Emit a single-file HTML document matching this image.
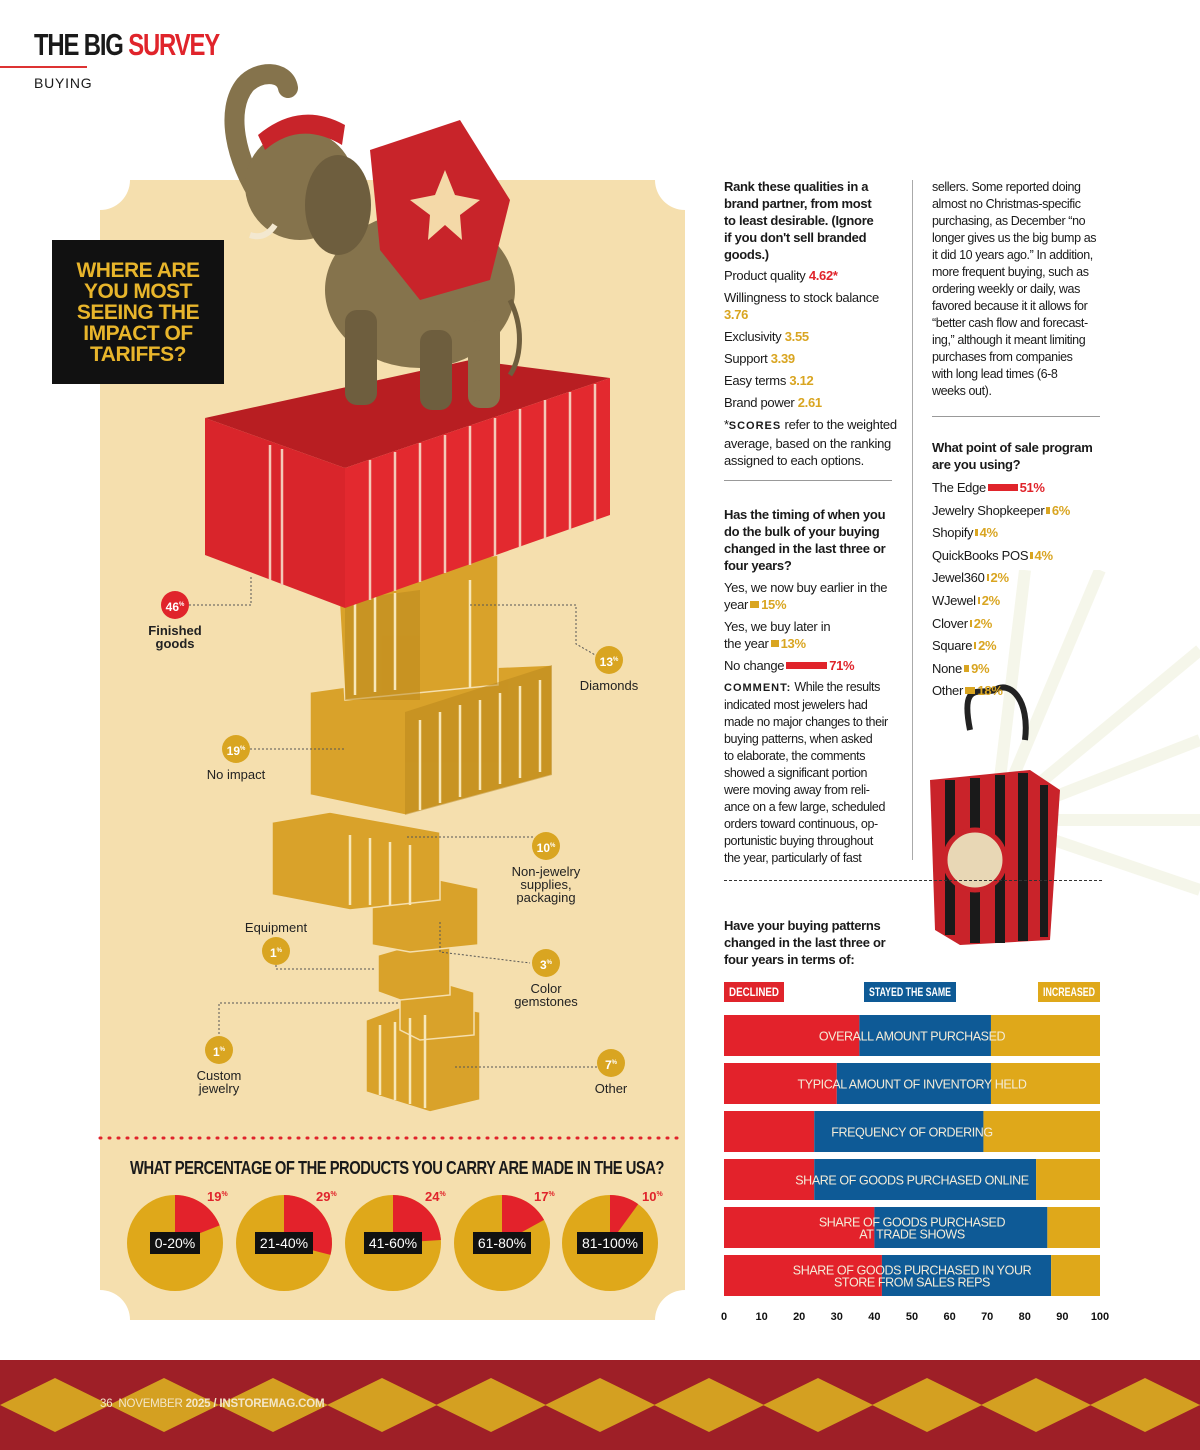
<!DOCTYPE html>
<html><head><meta charset="utf-8">
<style>
*{margin:0;padding:0;box-sizing:border-box}
body{width:1200px;height:1450px;position:relative;background:#fff;font-family:"Liberation Sans Narrow","Liberation Sans",sans-serif;color:#1a1a1a;overflow:hidden}
.t{position:absolute;white-space:nowrap;font-size:13px;line-height:17px;letter-spacing:-0.3px}
.b{font-weight:bold}
.g{color:#d9a521;font-weight:bold}
.r{color:#e0242b;font-weight:bold}
.ib{display:inline-block;height:7px;vertical-align:middle;margin:0 2px 2px 2px}
.lab{position:absolute;font-size:13px;line-height:13px;text-align:center;white-space:nowrap;font-weight:bold;color:#222}
.circ{position:absolute;width:28px;height:28px;border-radius:50%;color:#fff;font-weight:bold;font-size:12px;line-height:28px;text-align:center}
</style></head><body>
<div style="position:absolute;left:34px;top:28px;font-size:31px;font-weight:bold;letter-spacing:-1.5px;line-height:34px;transform:scaleX(0.77);transform-origin:0 0;white-space:nowrap">THE BIG <span style="color:#e0242b">SURVEY</span></div>
<div style="position:absolute;left:0;top:66px;width:87px;height:2px;background:#d33"></div>
<div style="position:absolute;left:34px;top:75px;font-size:14px;letter-spacing:0.8px;font-family:'Liberation Sans',sans-serif">BUYING</div>

<svg style="position:absolute;left:0;top:0" width="700" height="1340">
<path d="M130,180 H655 A30,30 0 0 0 685,210 V1290 A30,30 0 0 0 655,1320 H130 A30,30 0 0 0 100,1290 V210 A30,30 0 0 0 130,180 Z" fill="#f5dfae"/>
<line x1="100" y1="1138" x2="685" y2="1138" stroke="#e0242b" stroke-width="3" stroke-dasharray="1,8" stroke-linecap="round"/>
<g fill="#d9a22a" stroke="#f5dfae" stroke-width="1.5">
<polygon points="366,1020 420,1000 480,1012 480,1100 430,1112 366,1092"/>
<polygon points="400,995 450,985 474,992 474,1035 420,1040 400,1030"/>
<polygon points="378,955 430,940 450,948 450,995 400,1000 378,992"/>
<polygon points="372,895 440,880 478,888 478,945 410,952 372,945"/>
<polygon points="272,822 330,812 440,832 440,900 350,910 272,895"/>
<polygon points="310,692 480,668 552,665 552,775 405,815 310,795"/>
<polygon points="338,580 498,555 498,685 345,700"/>
</g>
<g fill="#b8861c" opacity="0.5">
<polygon points="405,712 552,665 552,775 405,815"/>
<polygon points="345,600 420,590 420,700 345,700"/>
</g>
<g stroke="#f8e7b8" stroke-width="2.5">
<line x1="420" y1="720" x2="420" y2="810"/><line x1="440" y1="712" x2="440" y2="803"/><line x1="460" y1="705" x2="460" y2="797"/><line x1="480" y1="700" x2="480" y2="790"/><line x1="500" y1="693" x2="500" y2="784"/><line x1="520" y1="686" x2="520" y2="778"/><line x1="540" y1="680" x2="540" y2="772"/>
<line x1="355" y1="600" x2="355" y2="695"/><line x1="375" y1="596" x2="375" y2="692"/><line x1="395" y1="593" x2="395" y2="690"/><line x1="470" y1="580" x2="470" y2="688"/>
<line x1="350" y1="835" x2="350" y2="905"/><line x1="370" y1="838" x2="370" y2="905"/><line x1="390" y1="842" x2="390" y2="905"/><line x1="410" y1="845" x2="410" y2="905"/>
<line x1="380" y1="1025" x2="380" y2="1095"/><line x1="395" y1="1022" x2="395" y2="1100"/><line x1="410" y1="1018" x2="410" y2="1104"/><line x1="425" y1="1015" x2="425" y2="1108"/>
</g>
<polygon points="205,418 470,360 610,378 345,468" fill="#b81e22"/>
<polygon points="205,418 345,468 345,608 205,555" fill="#d9252b"/>
<polygon points="345,468 610,378 610,515 345,608" fill="#e3292f"/>
<g stroke="#f4c9b8" stroke-width="2.5">
<line x1="270" y1="445" x2="270" y2="580"/><line x1="282" y1="449" x2="282" y2="585"/>
<line x1="370" y1="460" x2="370" y2="600"/><line x1="395" y1="452" x2="395" y2="591"/><line x1="420" y1="443" x2="420" y2="582"/><line x1="445" y1="435" x2="445" y2="573"/><line x1="470" y1="426" x2="470" y2="565"/><line x1="495" y1="418" x2="495" y2="556"/><line x1="520" y1="409" x2="520" y2="547"/><line x1="545" y1="400" x2="545" y2="538"/><line x1="570" y1="392" x2="570" y2="530"/><line x1="595" y1="384" x2="595" y2="521"/>
</g>
<g>
<path d="M262,200 C235,160 225,110 245,85 C258,70 285,70 288,88" stroke="#85734c" stroke-width="20" fill="none" stroke-linecap="round"/>
<ellipse cx="420" cy="290" rx="95" ry="78" fill="#85734c"/>
<rect x="345" y="310" width="32" height="95" rx="12" fill="#6e5e3e"/>
<rect x="420" y="330" width="32" height="80" rx="12" fill="#6e5e3e"/>
<rect x="468" y="320" width="32" height="88" rx="12" fill="#85734c"/>
<path d="M510,300 C525,330 520,360 510,375" stroke="#6e5e3e" stroke-width="5" fill="none"/>
<circle cx="300" cy="185" r="55" fill="#85734c"/>
<ellipse cx="338" cy="205" rx="33" ry="50" fill="#6e5e3e"/>
<polygon points="370,150 460,120 510,200 490,280 420,300 380,250" fill="#c8242a"/>
<polygon points="445,170 455,195 480,200 460,215 462,240 445,225 428,240 430,215 410,200 435,195" fill="#f4d9a8"/>
<path d="M258,135 Q300,100 345,125 L342,145 Q300,120 265,150 Z" fill="#c8242a"/>
<path d="M275,225 Q265,240 250,235" stroke="#f3e8d0" stroke-width="6" fill="none"/>
</g>
</svg>

<div style="position:absolute;left:52px;top:240px;width:172px;height:144px;background:#111;color:#e8b52b;font-weight:bold;font-size:21px;line-height:21px;text-align:center;padding-top:20px;letter-spacing:-0.5px">WHERE ARE<br>YOU MOST<br>SEEING THE<br>IMPACT OF<br>TARIFFS?</div>

<svg style="position:absolute;left:0;top:0" width="700" height="1140">
<g stroke="#555" stroke-width="1" stroke-dasharray="2,2" fill="none">
<polyline points="189,605 251,605 251,575"/>
<polyline points="470,605 576,605 576,644 604,660"/>
<polyline points="250,749 345,749"/>
<polyline points="407,837 533,837 540,845"/>
<polyline points="276,965 276,969 375,969"/>
<polyline points="440,922 440,952 530,963"/>
<polyline points="219,1050 219,1003 400,1003"/>
<polyline points="455,1067 598,1067"/>
</g></svg>

<div id="callouts"></div>

<div style="position:absolute;left:130px;top:1158px;font-size:18px;font-weight:bold;letter-spacing:-0.6px;line-height:20px;white-space:nowrap;transform:scaleX(0.82);transform-origin:0 0">WHAT PERCENTAGE OF THE PRODUCTS YOU CARRY ARE MADE IN THE USA?</div>
<svg id="pies" style="position:absolute;left:0;top:1180px" width="700" height="140"></svg>

<div class="t b" style="left:724px;top:178px">Rank these qualities in a<br>brand partner, from most<br>to least desirable. (Ignore<br>if you don't sell branded<br>goods.)</div>
<div class="t" style="left:724px;top:267px">Product quality <span class="r">4.62*</span></div>
<div class="t" style="left:724px;top:289px">Willingness to stock balance<br><span class="g">3.76</span></div>
<div class="t" style="left:724px;top:328px">Exclusivity <span class="g">3.55</span></div>
<div class="t" style="left:724px;top:350px">Support <span class="g">3.39</span></div>
<div class="t" style="left:724px;top:372px">Easy terms <span class="g">3.12</span></div>
<div class="t" style="left:724px;top:394px">Brand power <span class="g">2.61</span></div>
<div class="t" style="left:724px;top:416px">*<b style="letter-spacing:1px;font-size:11px">SCORES</b> refer to the weighted<br>average, based on the ranking<br>assigned to each options.</div>
<div style="position:absolute;left:724px;top:480px;width:168px;height:1px;background:#999"></div>
<div class="t b" style="left:724px;top:506px">Has the timing of when you<br>do the bulk of your buying<br>changed in the last three or<br>four years?</div>
<div class="t" style="left:724px;top:579px">Yes, we now buy earlier in the<br>year<span class="ib" style="width:9px;background:#d9a521"></span><span class="g">15%</span></div>
<div class="t" style="left:724px;top:618px">Yes, we buy later in<br>the year<span class="ib" style="width:8px;background:#d9a521"></span><span class="g">13%</span></div>
<div class="t" style="left:724px;top:657px">No change<span class="ib" style="width:41px;background:#e0242b"></span><span class="r">71%</span></div>
<div class="t" style="left:724px;top:679px;font-size:12.5px;letter-spacing:-0.4px"><b style="letter-spacing:1px;font-size:11px">COMMENT:</b> While the results<br>indicated most jewelers had<br>made no major changes to their<br>buying patterns, when asked<br>to elaborate, the comments<br>showed a significant portion<br>were moving away from reli-<br>ance on a few large, scheduled<br>orders toward continuous, op-<br>portunistic buying throughout<br>the year, particularly of fast</div>
<div style="position:absolute;left:912px;top:180px;width:1px;height:680px;background:#aaa"></div>

<svg style="position:absolute;left:900px;top:570px" width="300" height="400">
<g stroke="#f2f3e2" stroke-width="12" opacity="0.7">
<line x1="95" y1="250" x2="300" y2="80"/><line x1="95" y1="250" x2="300" y2="170"/><line x1="95" y1="250" x2="300" y2="250"/><line x1="95" y1="250" x2="300" y2="320"/><line x1="95" y1="250" x2="200" y2="0"/><line x1="95" y1="250" x2="125" y2="0"/>
</g>
<path d="M70,160 C60,110 80,125 95,120 C110,110 130,130 125,170" stroke="#222" stroke-width="6" fill="none"/>
<polygon points="30,210 130,200 160,220 150,370 60,375 35,360" fill="#c9232a"/>
<g fill="#1a1a1a"><rect x="45" y="210" width="10" height="155"/><rect x="70" y="208" width="10" height="165"/><rect x="95" y="205" width="10" height="168"/><rect x="118" y="203" width="10" height="168"/><rect x="140" y="215" width="8" height="152"/></g>
<circle cx="75" cy="290" r="30" fill="#e8d7b5" stroke="#c9232a" stroke-width="5"/>
</svg>

<div class="t" style="left:932px;top:179px;font-size:12.5px;letter-spacing:-0.4px">sellers. Some reported doing<br>almost no Christmas-specific<br>purchasing, as December “no<br>longer gives us the big bump as<br>it did 10 years ago.” In addition,<br>more frequent buying, such as<br>ordering weekly or daily, was<br>favored because it it allows for<br>“better cash flow and forecast-<br>ing,” although it meant limiting<br>purchases from companies<br>with long lead times (6-8<br>weeks out).</div>
<div style="position:absolute;left:932px;top:416px;width:168px;height:1px;background:#999"></div>
<div class="t b" style="left:932px;top:439px">What point of sale program<br>are you using?</div>
<div id="pos"></div>

<div style="position:absolute;left:724px;top:880px;width:378px;border-top:1.5px dashed #333"></div>
<div class="t b" style="left:724px;top:917px">Have your buying patterns<br>changed in the last three or<br>four years in terms of:</div>
<svg id="bars" style="position:absolute;left:700px;top:975px" width="420" height="355"></svg>

<svg style="position:absolute;left:0;top:1360px" width="1200" height="90">
<rect width="1200" height="90" fill="#9e1f27"/>
<g fill="#d4a021" id="diam"></g>
</svg>
<div style="position:absolute;left:100px;top:1398px;font-size:11.5px;color:#f3e6c8;font-family:'Liberation Sans',sans-serif;letter-spacing:-0.2px">36&nbsp; NOVEMBER <b>2025 / INSTOREMAG.COM</b></div>

<script>
(function(){var g=document.getElementById('diam');var s='';for(var i=0;i<12;i++){var cx=55+i*109;s+='<polygon points="'+(cx-55)+',45 '+cx+',18 '+(cx+55)+',45 '+cx+',72"/>';}g.innerHTML=s;})();

const calloutLabels=["Finished\ngoods","Diamonds","No impact","Non-jewelry\nsupplies,\npackaging","Equipment","Color\ngemstones","Custom\njewelry","Other"];
const calloutValues=[46,13,19,10,1,3,1,7];
const calloutPos=[[175,605,0],[609,660,0],[236,749,0],[546,846,0],[276,951,-1],[546,963,0],[219,1050,0],[611,1063,0]];
(function(){var c=document.getElementById('callouts');
calloutValues.forEach(function(v,i){var p=calloutPos[i];
var d=document.createElement('div');d.className='circ';


d.style.left=(p[0]-14)+'px';d.style.top=(p[1]-14)+'px';d.style.background=i===0?'#e0242b':'#d9a521';
d.innerHTML=v+'<sup style="font-size:6px">%</sup>';c.appendChild(d);
var l=document.createElement('div');l.className='lab';


l.style.left=(p[0]-60)+'px';l.style.width='120px';
l.style.top=(p[2]<0?p[1]-30:p[1]+19)+'px';l.style.fontWeight=i===0?'bold':'normal';
l.innerHTML=calloutLabels[i].replace(/\n/g,'<br>');c.appendChild(l);});})();

const pieCategories=["0-20%","21-40%","41-60%","61-80%","81-100%"];
const pieValues=[19,29,24,17,10];
(function(){var svg=document.getElementById('pies');var ns='http://www.w3.org/2000/svg';
var cxs=[175,284,393,502,610],cy=63,R=48;
pieValues.forEach(function(v,i){var cx=cxs[i];
var c=document.createElementNS(ns,'circle');c.setAttribute('cx',cx);c.setAttribute('cy',cy);c.setAttribute('r',R);c.setAttribute('fill','#dfa81a');


svg.appendChild(c);
var a=v/100*2*Math.PI;var x=cx+R*Math.sin(a),y=cy-R*Math.cos(a);
var p=document.createElementNS(ns,'path');p.setAttribute('d','M'+cx+','+cy+' L'+cx+','+(cy-R)+' A'+R+','+R+' 0 '+(v>50?1:0)+' 1 '+x+','+y+' Z');p.setAttribute('fill','#e3222b');


svg.appendChild(p);
var t=document.createElementNS(ns,'text');t.setAttribute('x',cx+R-16);t.setAttribute('y',cy-R+6);t.setAttribute('fill','#e0242b');t.setAttribute('font-weight','bold');t.setAttribute('font-size','13');t.textContent=v;


var sp=document.createElementNS(ns,'tspan');sp.setAttribute('font-size','7');sp.setAttribute('dy','-5');sp.textContent='%';t.appendChild(sp);svg.appendChild(t);
var w=pieCategories[i].length*8+10;
var r=document.createElementNS(ns,'rect');r.setAttribute('x',cx-w/2);r.setAttribute('y',cy-11);r.setAttribute('width',w);r.setAttribute('height',22);r.setAttribute('fill','#111');


svg.appendChild(r);
var l=document.createElementNS(ns,'text');l.setAttribute('x',cx);l.setAttribute('y',cy+5);l.setAttribute('fill','#fff');l.setAttribute('font-size','14');l.setAttribute('text-anchor','middle');l.setAttribute('font-family','Liberation Sans, sans-serif');l.textContent=pieCategories[i];


svg.appendChild(l);});})();

const posNames=["The Edge","Jewelry Shopkeeper","Shopify","QuickBooks POS","Jewel360","WJewel","Clover","Square","None","Other"];
const posValues=[51,6,4,4,2,2,2,2,9,18];
(function(){var c=document.getElementById('pos');
posNames.forEach(function(n,i){var d=document.createElement('div');d.className='t';


d.style.left='932px';d.style.top=(479+i*22.6)+'px';
var col=i===0?'#e0242b':'#d9a521';
d.innerHTML=n+'<span class="ib" style="width:'+Math.max(2,posValues[i]*0.58)+'px;background:'+col+'"></span><span style="color:'+col+';font-weight:bold">'+posValues[i]+'%</span>';
c.appendChild(d);});})();

const barCategories=["OVERALL AMOUNT PURCHASED","TYPICAL AMOUNT OF INVENTORY HELD","FREQUENCY OF ORDERING","SHARE OF GOODS PURCHASED ONLINE","SHARE OF GOODS PURCHASED\nAT TRADE SHOWS","SHARE OF GOODS PURCHASED IN YOUR\nSTORE FROM SALES REPS"];
const declined=[36,30,24,24,40,42];
const stayedSame=[35,41,45,59,46,45];
const increased=[29,29,31,17,14,13];
const xTicks=[0,10,20,30,40,50,60,70,80,90,100];
(function(){var svg=document.getElementById('bars');var ns='http://www.w3.org/2000/svg';
var x0=24,W=376;function X(v){return x0+v/100*W;}
function el(tag,attrs){var e=document.createElementNS(ns,tag);for(var k in attrs)e.setAttribute(k,attrs[k]);svg.appendChild(e);return e;}
var leg=[["DECLINED","#e0242b",24,60],["STAYED THE SAME","#0e5a96",164,92],["INCREASED","#dfa81a",338,62]];
leg.forEach(function(L){var r=el('rect',{x:L[2],y:7,width:L[3],height:20,fill:L[1]});


var t=el('text',{x:L[2]+L[3]/2,y:21,fill:'#fff','font-size':'12','font-weight':'bold','text-anchor':'middle',textLength:L[3]-10,lengthAdjust:'spacingAndGlyphs'});t.textContent=L[0];

});
barCategories.forEach(function(c,i){var y=40+i*48,h=41;
var segs=[[0,declined[i],'#e3222b'],[declined[i],declined[i]+stayedSame[i],'#0e5a96'],[declined[i]+stayedSame[i],declined[i]+stayedSame[i]+increased[i],'#dfa81a']];
segs.forEach(function(s){var r=el('rect',{x:X(s[0]),y:y,width:X(s[1])-X(s[0]),height:h,fill:s[2]});

});
var lines=c.split('\n');lines.forEach(function(ln,j){var t=el('text',{x:X(50),y:y+h/2+5+(j-(lines.length-1)/2)*12,fill:'#f4ecd8','font-size':'12.5','text-anchor':'middle','font-family':'Liberation Sans, sans-serif','letter-spacing':'-0.4'});t.textContent=ln;

});});
xTicks.forEach(function(v){var t=el('text',{x:X(v),y:345,'font-size':'11','font-weight':'bold','text-anchor':'middle',fill:'#111'});t.textContent=v;

});})();
</script>
</body></html>
